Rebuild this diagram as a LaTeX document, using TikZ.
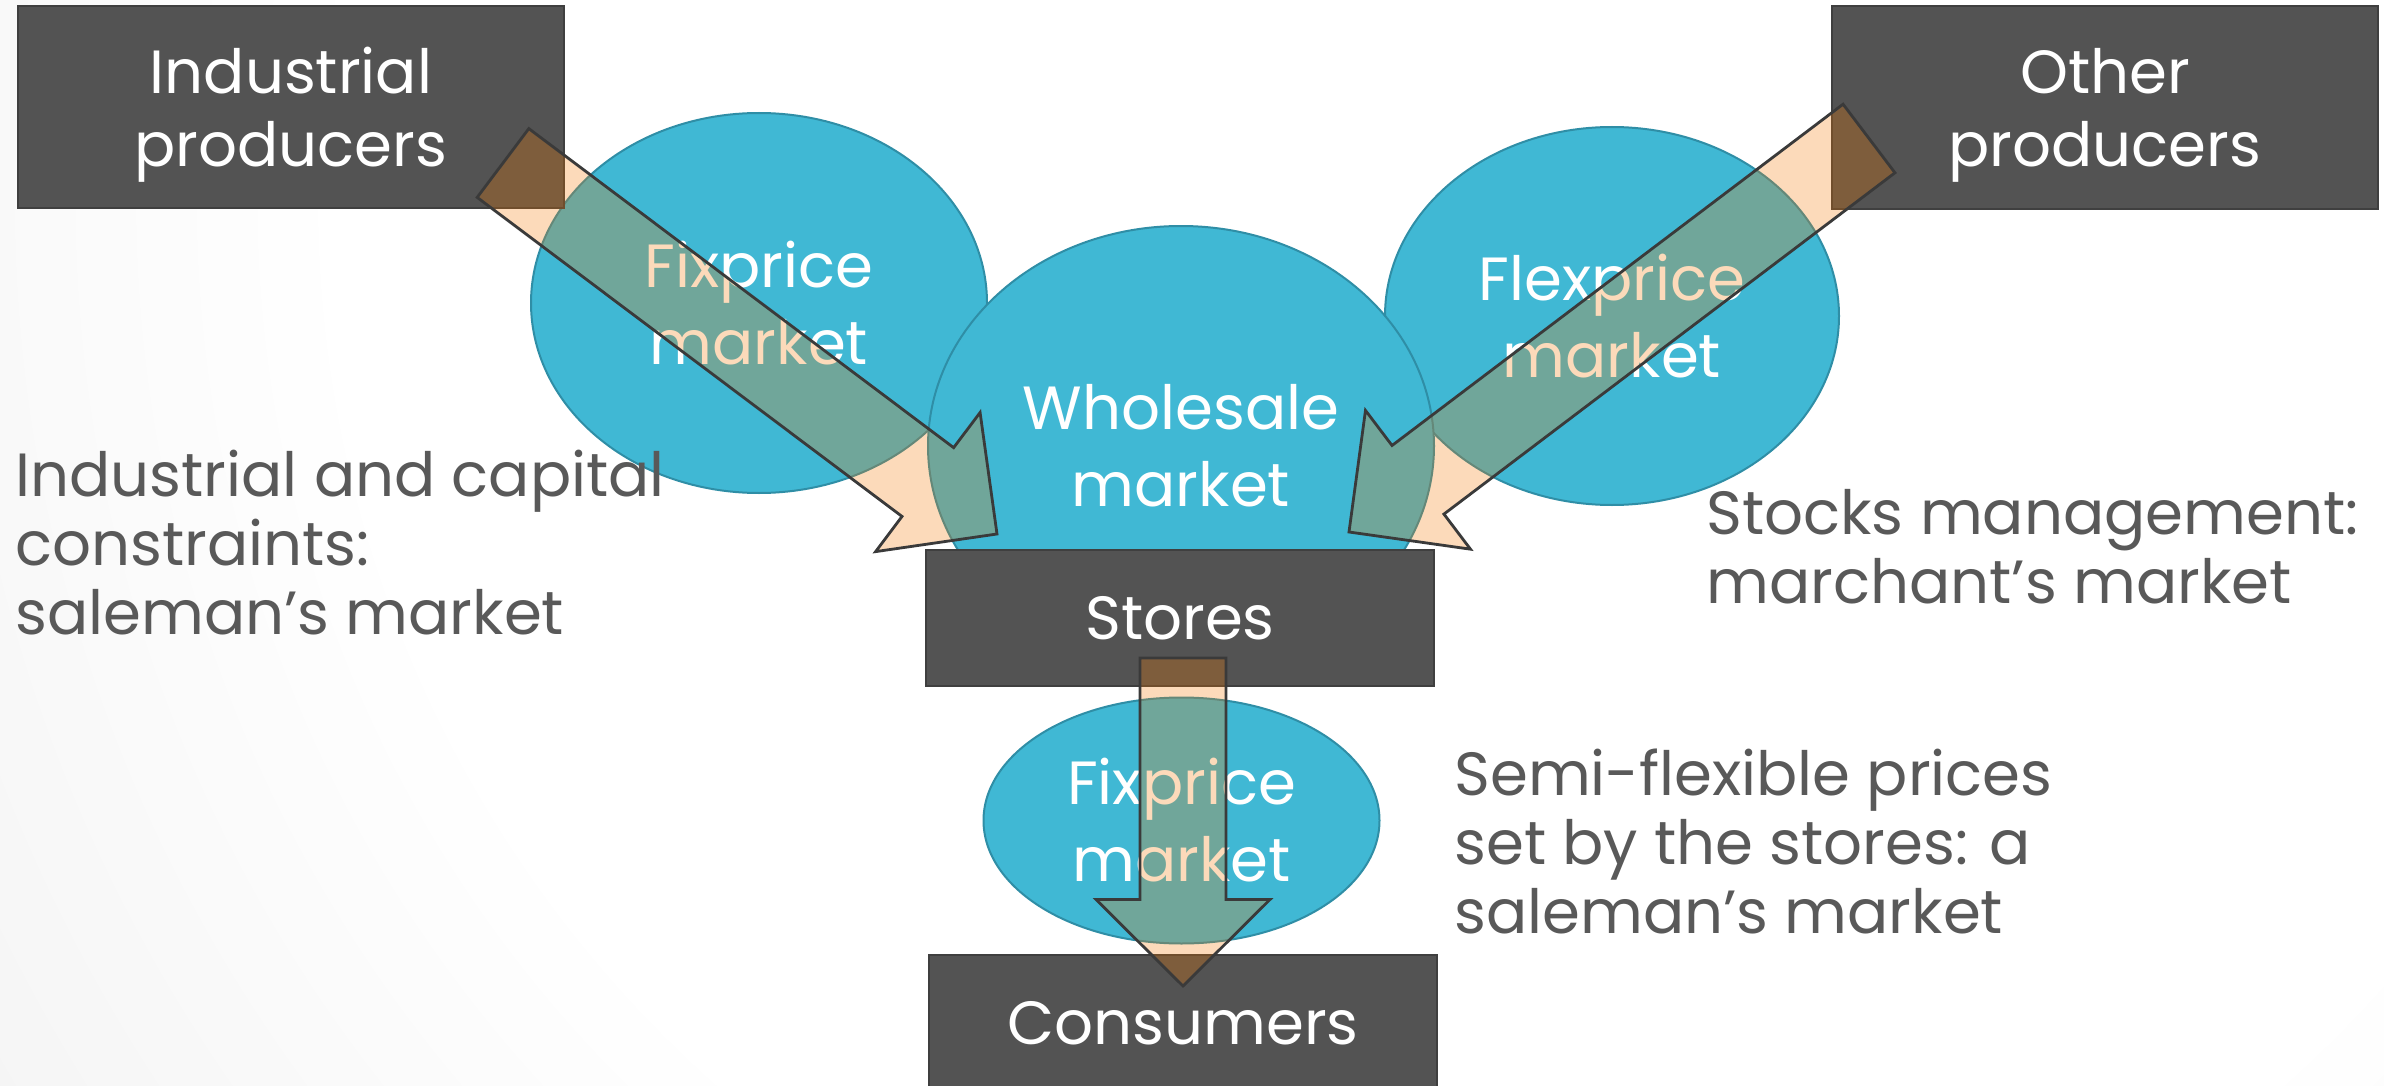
\documentclass[tikz,border=0pt]{standalone}
\usepackage{fontspec}
\setmainfont{Poppins}
\usepackage{xcolor}
\usepackage{tikz}
\usetikzlibrary{positioning,calc,shapes.geometric}
\definecolor{boxGray}{HTML}{535353}
\definecolor{boxLine}{HTML}{3F3F3F}
\definecolor{mktBlue}{HTML}{40B8D4}
\definecolor{mktLine}{HTML}{2F8EA6}
\definecolor{noteGray}{HTML}{595959}
\definecolor{flowOrange}{RGB}{245,120,0}
\definecolor{flowLine}{HTML}{3A3A3A}
\definecolor{bgEdge}{RGB}{217,217,217}
\pgfdeclareradialshading{slideBg}{\pgfpoint{0bp}{0bp}}{color(0bp)=(white); color(16bp)=(white); color(48bp)=(bgEdge); color(50bp)=(bgEdge)}
\tikzset{
    actor/.style={
        draw=boxLine,
        line width=1pt,
        fill=boxGray,
        text=white,
        align=center,
        inner sep=0pt,
        text depth=0pt,
        font=\fontsize{30.5}{36.5}\selectfont
    },
    market/.style={
        ellipse,
        draw=mktLine,
        line width=1pt,
        fill=mktBlue,
        text=white,
        align=center,
        inner sep=0pt,
        font=\fontsize{30.5}{38.5}\selectfont
    },
    note/.style={
        text=noteGray,
        align=left,
        anchor=base west,
        inner sep=0pt,
        font=\fontsize{30.5}{34.5}\selectfont
    },
    flow/.style={
        draw=flowLine,
        line width=1.4pt,
        fill=flowOrange,
        fill opacity=0.27
    }
}
% block arrow from #1 (tail) to #2 (tip)
\newcommand{\flowarrow}[2]{%
    \coordinate (neck) at ($(#2)!43.25pt!(#1)$);
    \draw[flow] ($(#1)!21.5pt!90:(#2)$) -- ($(neck)!21.5pt!90:(#2)$) -- ($(neck)!43.5pt!90:(#2)$) -- (#2)
        -- ($(neck)!43.5pt!-90:(#2)$) -- ($(neck)!21.5pt!-90:(#2)$) -- ($(#1)!21.5pt!-90:(#2)$) -- cycle;
}

\begin{document}
\begin{tikzpicture}[x=0.5pt, y=-0.5pt]
    \useasboundingbox (0,0) rectangle (2384,1086);
    \clip (0,0) rectangle (2384,1086);
    \fill[bgEdge] (0,0) rectangle (2384,1086);
    \shade[shading=slideBg] (1500,200) circle [radius=900pt];

    % markets
    \node[market, minimum width=228pt, minimum height=190pt] (fixTop) at (759,303) {Fixprice\\market};
    \node[market, minimum width=227pt, minimum height=189pt] (flex) at (1612,316) {Flexprice\\market};
    \node[market, minimum width=253pt, minimum height=220pt] (whole) at (1181,446) {Wholesale\\market};

    % actors
    \node[actor, minimum width=273pt, minimum height=101pt] (indprod) at (291,107) {Industrial\\producers};
    \node[actor, minimum width=273pt, minimum height=101pt] (othprod) at (2105,107.5) {Other\\producers};
    \node[actor, minimum width=254pt, minimum height=68pt] (stores) at (1180,618) {Stores};
    \node[actor, minimum width=254pt, minimum height=68pt, below=133.5pt of stores, xshift=1.5pt] (consumers) {Consumers};
    \node[market, minimum width=198pt, minimum height=123pt] (fixLow) at ($(stores.south)!0.5!(consumers.north)$) {Fixprice\\market};

    \node[note] (leftnote) at (15,634) {Industrial and capital\\constraints:\\saleman’s market};
    \node[note] (stocknote) at (1706,603) {Stocks management:\\marchant’s market};
    \node[note] (seminote) at (1454,933) {Semi-flexible prices\\set by the stores: a\\saleman’s market};

    % flows
    \coordinate (indOut) at ($(indprod.south east)+(-62,-46)$);
    \coordinate (wholeInL) at ($(stores.north west)+(72,-15)$);
    \coordinate (othOut) at ($(othprod.south west)+(38,-71)$);
    \coordinate (wholeInR) at ($(stores.north east)+(-86,-17)$);
    \coordinate (storesOut) at ($(stores.south)+(3,-29)$);
    \coordinate (consIn) at ($(consumers.north)+(0,32)$);
    \flowarrow{indOut}{wholeInL}
    \flowarrow{othOut}{wholeInR}
    \flowarrow{storesOut}{consIn}
\end{tikzpicture}
\end{document}
